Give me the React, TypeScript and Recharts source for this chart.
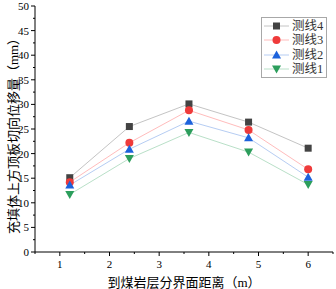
import { LineChart, Line, XAxis, YAxis, Legend } from 'recharts';

// distance to coal/rock interface (m)
const distances = [1.2, 2.4, 3.6, 4.8, 6.0];
// tangential displacement of roof above the backfill (mm)
const line4 = [15.1, 25.5, 30.1, 26.4, 21.1];
const line3 = [14.2, 22.2, 28.8, 24.8, 16.8];
const line2 = [13.6, 20.9, 26.6, 23.2, 15.2];
const line1 = [11.7, 19.0, 24.3, 20.3, 13.7];

const seriesNames = ['测线4', '测线3', '测线2', '测线1'];
const xTicks = [0.5, 1, 1.5, 2, 2.5, 3, 3.5, 4, 4.5, 5, 5.5, 6, 6.5];
const yTicks = [0, 2.5, 5, 7.5, 10, 12.5, 15, 17.5, 20, 22.5, 25, 27.5, 30, 32.5, 35, 37.5, 40, 42.5, 45, 47.5, 50];

const data = distances.map((d, i) => ({ d, s4: line4[i], s3: line3[i], s2: line2[i], s1: line1[i] }));

type Shape = 'square' | 'circle' | 'up' | 'down';

const styles: { key: string; shape: Shape; fill: string; stroke: string }[] = [
  { key: 's4', shape: 'square', fill: '#434343', stroke: '#c4c4c4' },
  { key: 's3', shape: 'circle', fill: '#ef3a3a', stroke: '#ffbcbc' },
  { key: 's2', shape: 'up', fill: '#1c62dc', stroke: '#b6cdf3' },
  { key: 's1', shape: 'down', fill: '#2c9e5c', stroke: '#b9e0c8' },
];

const serif = '"Liberation Serif", "Times New Roman", serif';
const cjk = '"Liberation Serif", "Noto Sans CJK SC", serif';

function markerPath(shape: Shape, cx: number, cy: number, fill: string, key?: string | number) {
  if (shape === 'square') return <rect key={key} x={cx - 3.5} y={cy - 3.5} width={7} height={7} fill={fill} />;
  if (shape === 'circle') return <circle key={key} cx={cx} cy={cy} r={4} fill={fill} />;
  if (shape === 'up')
    return <path key={key} d={`M${cx},${cy - 4.5}L${cx + 4.5},${cy + 3.5}L${cx - 4.5},${cy + 3.5}Z`} fill={fill} />;
  return <path key={key} d={`M${cx},${cy + 4.5}L${cx + 4.5},${cy - 3.5}L${cx - 4.5},${cy - 3.5}Z`} fill={fill} />;
}

const makeDot = (shape: Shape, fill: string) => (props: any) => {
  const { cx, cy, index } = props;
  if (cx == null || cy == null) return <g key={index} />;
  return markerPath(shape, cx, cy, fill, index);
};

const XTick = ({ x, y, payload }: any) => {
  const major = Number.isInteger(payload.value) && payload.value > 0.5;
  return (
    <g>
      <line x1={x} x2={x} y1={y} y2={y + (major ? 4 : 2)} stroke="#000" />
      {major && (
        <text x={x} y={y + 16} textAnchor="middle" fontSize={11} fontFamily={serif} fill="#000">
          {payload.value}
        </text>
      )}
    </g>
  );
};

const YTick = ({ x, y, payload }: any) => {
  const major = payload.value % 5 === 0;
  return (
    <g>
      <line x1={x} x2={x - (major ? 4 : 2)} y1={y} y2={y} stroke="#000" />
      {major && (
        <text x={x - 6} y={y + 4} textAnchor="end" fontSize={11} fontFamily={serif} fill="#000">
          {payload.value}
        </text>
      )}
    </g>
  );
};

const LegendBox = () => (
  <div style={{ border: '1px solid #a8a8a8', background: '#fff', width: 64, padding: '1px 0' }}>
    {styles.map((s, i) => (
      <div key={s.key} style={{ display: 'flex', alignItems: 'center', height: 14.3 }}>
        <svg width={30} height={14} style={{ flex: 'none' }}>
          <line x1={2} x2={27} y1={7} y2={7} stroke={s.stroke} />
          {markerPath(s.shape, 14.5, 7, s.fill)}
        </svg>
        <span style={{ fontFamily: cjk, fontSize: 12.5, color: '#333', lineHeight: '14px' }}>{seriesNames[i]}</span>
      </div>
    ))}
  </div>
);

export default function App() {
  return (
    <div style={{ position: 'relative', width: 336, height: 289, background: '#fff' }}>
      <style>{'body{margin:0}'}</style>
      <LineChart width={336} height={289} data={data} margin={{ top: 6, right: 3, bottom: 0, left: 0 }}>
        <XAxis
          dataKey="d"
          type="number"
          domain={[0.5, 6.5]}
          ticks={xTicks}
          interval={0}
          tickSize={0}
          tickMargin={0}
          tick={<XTick />}
          height={37}
          axisLine={{ stroke: '#000' }}
        />
        <YAxis
          type="number"
          domain={[0, 50]}
          ticks={yTicks}
          interval={0}
          tickSize={0}
          tickMargin={0}
          tick={<YTick />}
          width={35}
          axisLine={{ stroke: '#000' }}
        />
        <Legend
          layout="vertical"
          align="center"
          verticalAlign="middle"
          content={<LegendBox />}
          wrapperStyle={{ position: 'absolute', top: 17, left: 261, width: 67 }}
        />
        {styles.map((s, i) => (
          <Line
            key={s.key}
            dataKey={s.key}
            name={seriesNames[i]}
            stroke={s.stroke}
            strokeWidth={1}
            dot={makeDot(s.shape, s.fill)}
            activeDot={false}
            isAnimationActive={false}
          />
        ))}
      </LineChart>
      <div
        style={{
          position: 'absolute',
          left: 12,
          top: 133,
          transform: 'translate(-50%, -50%) rotate(-90deg)',
          whiteSpace: 'nowrap',
          fontFamily: cjk,
          fontSize: 13,
          color: '#000',
        }}
      >
        充填体上方顶板切向位移量（mm）
      </div>
      <div
        style={{
          position: 'absolute',
          left: 184,
          top: 281,
          transform: 'translate(-50%, -50%)',
          whiteSpace: 'nowrap',
          fontFamily: cjk,
          fontSize: 13,
          color: '#000',
        }}
      >
        到煤岩层分界面距离（m）
      </div>
    </div>
  );
}
